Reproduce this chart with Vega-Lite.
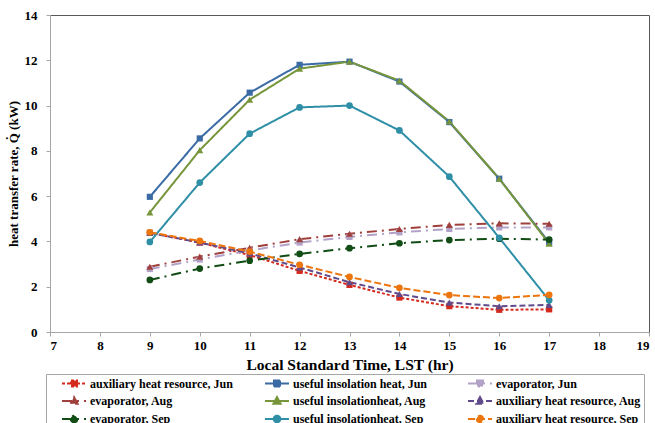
{
  "$schema": "https://vega.github.io/schema/vega-lite/v6.json",
  "width": 599,
  "height": 317,
  "autosize": {"type": "none"},
  "padding": {"left": 50, "top": 15, "right": 6, "bottom": 91},
  "background": "white",
  "config": {
    "view": {"stroke": null},
    "font": "Liberation Serif",
    "axis": {
      "domainColor": "#A6A6A6",
      "tickColor": "#A6A6A6",
      "tickSize": 4,
      "grid": false,
      "labelFont": "Liberation Serif",
      "labelFontSize": 13,
      "labelFontWeight": "bold",
      "labelColor": "#000000",
      "titleFont": "Liberation Serif",
      "titleFontWeight": "bold",
      "titleColor": "#000000"
    }
  },
  "data": {
    "values": [
      {"s": "auxiliary heat resource, Jun", "t": 9, "v": 4.38},
      {"s": "auxiliary heat resource, Jun", "t": 10, "v": 3.95},
      {"s": "auxiliary heat resource, Jun", "t": 11, "v": 3.4},
      {"s": "auxiliary heat resource, Jun", "t": 12, "v": 2.7},
      {"s": "auxiliary heat resource, Jun", "t": 13, "v": 2.08},
      {"s": "auxiliary heat resource, Jun", "t": 14, "v": 1.52},
      {"s": "auxiliary heat resource, Jun", "t": 15, "v": 1.14},
      {"s": "auxiliary heat resource, Jun", "t": 16, "v": 0.98},
      {"s": "auxiliary heat resource, Jun", "t": 17, "v": 1.0},
      {"s": "useful insolation heat, Jun", "t": 9, "v": 5.97},
      {"s": "useful insolation heat, Jun", "t": 10, "v": 8.55},
      {"s": "useful insolation heat, Jun", "t": 11, "v": 10.57},
      {"s": "useful insolation heat, Jun", "t": 12, "v": 11.8},
      {"s": "useful insolation heat, Jun", "t": 13, "v": 11.94},
      {"s": "useful insolation heat, Jun", "t": 14, "v": 11.06},
      {"s": "useful insolation heat, Jun", "t": 15, "v": 9.27},
      {"s": "useful insolation heat, Jun", "t": 16, "v": 6.77},
      {"s": "useful insolation heat, Jun", "t": 17, "v": 3.95},
      {"s": "evaporator, Jun", "t": 9, "v": 2.78},
      {"s": "evaporator, Jun", "t": 10, "v": 3.2},
      {"s": "evaporator, Jun", "t": 11, "v": 3.6},
      {"s": "evaporator, Jun", "t": 12, "v": 3.95},
      {"s": "evaporator, Jun", "t": 13, "v": 4.2},
      {"s": "evaporator, Jun", "t": 14, "v": 4.4},
      {"s": "evaporator, Jun", "t": 15, "v": 4.55},
      {"s": "evaporator, Jun", "t": 16, "v": 4.62},
      {"s": "evaporator, Jun", "t": 17, "v": 4.62},
      {"s": "evaporator, Aug", "t": 9, "v": 2.88},
      {"s": "evaporator, Aug", "t": 10, "v": 3.33},
      {"s": "evaporator, Aug", "t": 11, "v": 3.72},
      {"s": "evaporator, Aug", "t": 12, "v": 4.1},
      {"s": "evaporator, Aug", "t": 13, "v": 4.34},
      {"s": "evaporator, Aug", "t": 14, "v": 4.55},
      {"s": "evaporator, Aug", "t": 15, "v": 4.73},
      {"s": "evaporator, Aug", "t": 16, "v": 4.8},
      {"s": "evaporator, Aug", "t": 17, "v": 4.78},
      {"s": "useful insolationheat, Aug", "t": 9, "v": 5.28},
      {"s": "useful insolationheat, Aug", "t": 10, "v": 8.03},
      {"s": "useful insolationheat, Aug", "t": 11, "v": 10.26},
      {"s": "useful insolationheat, Aug", "t": 12, "v": 11.63},
      {"s": "useful insolationheat, Aug", "t": 13, "v": 11.94},
      {"s": "useful insolationheat, Aug", "t": 14, "v": 11.1},
      {"s": "useful insolationheat, Aug", "t": 15, "v": 9.3},
      {"s": "useful insolationheat, Aug", "t": 16, "v": 6.77},
      {"s": "useful insolationheat, Aug", "t": 17, "v": 3.9},
      {"s": "auxiliary heat resource, Aug", "t": 9, "v": 4.38},
      {"s": "auxiliary heat resource, Aug", "t": 10, "v": 3.95},
      {"s": "auxiliary heat resource, Aug", "t": 11, "v": 3.47},
      {"s": "auxiliary heat resource, Aug", "t": 12, "v": 2.85},
      {"s": "auxiliary heat resource, Aug", "t": 13, "v": 2.2},
      {"s": "auxiliary heat resource, Aug", "t": 14, "v": 1.68},
      {"s": "auxiliary heat resource, Aug", "t": 15, "v": 1.3},
      {"s": "auxiliary heat resource, Aug", "t": 16, "v": 1.14},
      {"s": "auxiliary heat resource, Aug", "t": 17, "v": 1.2},
      {"s": "evaporator, Sep", "t": 9, "v": 2.3},
      {"s": "evaporator, Sep", "t": 10, "v": 2.8},
      {"s": "evaporator, Sep", "t": 11, "v": 3.15},
      {"s": "evaporator, Sep", "t": 12, "v": 3.45},
      {"s": "evaporator, Sep", "t": 13, "v": 3.7},
      {"s": "evaporator, Sep", "t": 14, "v": 3.92},
      {"s": "evaporator, Sep", "t": 15, "v": 4.06},
      {"s": "evaporator, Sep", "t": 16, "v": 4.12},
      {"s": "evaporator, Sep", "t": 17, "v": 4.08},
      {"s": "useful insolationheat, Sep", "t": 9, "v": 3.98},
      {"s": "useful insolationheat, Sep", "t": 10, "v": 6.6},
      {"s": "useful insolationheat, Sep", "t": 11, "v": 8.76},
      {"s": "useful insolationheat, Sep", "t": 12, "v": 9.92},
      {"s": "useful insolationheat, Sep", "t": 13, "v": 10.0},
      {"s": "useful insolationheat, Sep", "t": 14, "v": 8.9},
      {"s": "useful insolationheat, Sep", "t": 15, "v": 6.86},
      {"s": "useful insolationheat, Sep", "t": 16, "v": 4.16},
      {"s": "useful insolationheat, Sep", "t": 17, "v": 1.4},
      {"s": "auxiliary heat resource, Sep", "t": 9, "v": 4.4},
      {"s": "auxiliary heat resource, Sep", "t": 10, "v": 4.02},
      {"s": "auxiliary heat resource, Sep", "t": 11, "v": 3.55},
      {"s": "auxiliary heat resource, Sep", "t": 12, "v": 2.97},
      {"s": "auxiliary heat resource, Sep", "t": 13, "v": 2.43},
      {"s": "auxiliary heat resource, Sep", "t": 14, "v": 1.95},
      {"s": "auxiliary heat resource, Sep", "t": 15, "v": 1.63},
      {"s": "auxiliary heat resource, Sep", "t": 16, "v": 1.5},
      {"s": "auxiliary heat resource, Sep", "t": 17, "v": 1.64}
    ]
  },
  "resolve": {"axis": {"x": "independent", "y": "independent"}},
  "layer": [
    {
      "mark": {"type": "line", "strokeWidth": 2},
      "encoding": {
        "x": {
          "field": "t", "type": "quantitative",
          "scale": {"domain": [7, 19], "nice": false, "zero": false},
          "axis": {"orient": "bottom", "values": [7,8,9,10,11,12,13,14,15,16,17,18,19], "labelPadding": 3, "labelFont": "Liberation Serif", "titleFont": "Liberation Serif", "title": "Local Standard Time, LST (hr)", "titleFontSize": 15.5, "titlePadding": 5}
        },
        "y": {
          "field": "v", "type": "quantitative",
          "scale": {"domain": [0, 14], "nice": false},
          "axis": {"orient": "left", "values": [0,2,4,6,8,10,12,14], "labelPadding": 9, "labelFont": "Liberation Serif", "titleFont": "Liberation Serif", "title": "heat transfer rate, Q̇ (kW)", "titleFontSize": 13, "titlePadding": 4}
        },
        "color": {
          "field": "s", "type": "nominal",
          "scale": {
            "domain": ["auxiliary heat resource, Jun", "useful insolation heat, Jun", "evaporator, Jun", "evaporator, Aug", "useful insolationheat, Aug", "auxiliary heat resource, Aug", "evaporator, Sep", "useful insolationheat, Sep", "auxiliary heat resource, Sep"],
            "range": ["#D42A1E", "#3A6BA5", "#B3A2C7", "#A0403C", "#77963C", "#5F4B8B", "#114D14", "#2F8FA6", "#EC750E"]
          },
          "legend": {
            "orient": "none",
            "legendX": -4,
            "legendY": 359,
            "direction": "horizontal",
            "columns": 3,
            "title": " ",
            "titleOrient": "left",
            "titleFontSize": 12,
            "titlePadding": 19,
            "gridAlign": "all",
            "columnPadding": 26,
            "rowPadding": 2,
            "padding": 3,
            "strokeColor": "#A6A6A6",
            "fillColor": "white",
            "labelFont": "Liberation Serif",
            "labelFontSize": 12,
            "labelFontWeight": "bold",
            "labelColor": "#000000",
            "labelOffset": 10,
            "labelLimit": 300,
            "symbolSize": 36,
            "symbolStrokeWidth": 2,
            "encode": {
              "symbols": {
                "update": {
                  "shape": {"signal": "['M-4,0H4M-1,-1H1V1H-1Z','M-4,0H4M-1,-1H1V1H-1Z','M-4,0H4M-1,-1H1V1H-1Z','M-4,0H4M0,-1.3L1.2,0.9H-1.2Z','M-4,0H4M0,-1.3L1.2,0.9H-1.2Z','M-4,0H4M0,-1.3L1.2,0.9H-1.2Z','M-4,0H4M-1.1,0A1.1,1.1 0 1,0 1.1,0A1.1,1.1 0 1,0 -1.1,0Z','M-4,0H4M-1.1,0A1.1,1.1 0 1,0 1.1,0A1.1,1.1 0 1,0 -1.1,0Z','M-4,0H4M-1.1,0A1.1,1.1 0 1,0 1.1,0A1.1,1.1 0 1,0 -1.1,0Z'][indexof(['auxiliary heat resource, Jun','useful insolation heat, Jun','evaporator, Jun','evaporator, Aug','useful insolationheat, Aug','auxiliary heat resource, Aug','evaporator, Sep','useful insolationheat, Sep','auxiliary heat resource, Sep'], datum.value)]"},
                  "fill": {"scale": "color", "field": "value"},
                  "stroke": {"scale": "color", "field": "value"},
                  "strokeWidth": {"value": 2},
                  "opacity": {"value": 1}
                }
              }
            }
          }
        },
        "strokeDash": {
          "field": "s", "type": "nominal",
          "scale": {
            "domain": ["auxiliary heat resource, Jun", "useful insolation heat, Jun", "evaporator, Jun", "evaporator, Aug", "useful insolationheat, Aug", "auxiliary heat resource, Aug", "evaporator, Sep", "useful insolationheat, Sep", "auxiliary heat resource, Sep"],
            "range": [[3, 2], [1, 0], [10, 5, 2, 5], [10, 5, 2, 5], [1, 0], [6, 3], [10, 5, 2, 5], [1, 0], [7, 3]]
          }
        }
      }
    },
    {
      "transform": [{"filter": {"field": "s", "oneOf": ["auxiliary heat resource, Jun", "useful insolation heat, Jun", "evaporator, Jun"]}}],
      "mark": {"type": "point", "shape": "square", "filled": true, "opacity": 1, "size": 38},
      "encoding": {
        "x": {"field": "t", "type": "quantitative", "axis": null},
        "y": {"field": "v", "type": "quantitative", "axis": null},
        "color": {"field": "s", "type": "nominal"}
      }
    },
    {
      "transform": [{"filter": {"field": "s", "oneOf": ["evaporator, Aug", "useful insolationheat, Aug", "auxiliary heat resource, Aug"]}}],
      "mark": {"type": "point", "shape": "triangle-up", "filled": true, "opacity": 1, "size": 50},
      "encoding": {
        "x": {"field": "t", "type": "quantitative", "axis": null},
        "y": {"field": "v", "type": "quantitative", "axis": null},
        "color": {"field": "s", "type": "nominal"}
      }
    },
    {
      "transform": [{"filter": {"field": "s", "oneOf": ["evaporator, Sep", "useful insolationheat, Sep", "auxiliary heat resource, Sep"]}}],
      "mark": {"type": "point", "shape": "circle", "filled": true, "opacity": 1, "size": 45},
      "encoding": {
        "x": {"field": "t", "type": "quantitative", "axis": null},
        "y": {"field": "v", "type": "quantitative", "axis": null},
        "color": {"field": "s", "type": "nominal"}
      }
    },
    {
      "mark": {"type": "point", "opacity": 0},
      "encoding": {
        "x": {"field": "t", "type": "quantitative", "axis": {"orient": "top", "domainColor": "#595959", "ticks": false, "labels": false, "title": null}},
        "y": {"field": "v", "type": "quantitative", "axis": {"orient": "right", "domainColor": "#595959", "ticks": false, "labels": false, "title": null}}
      }
    }
  ]
}
